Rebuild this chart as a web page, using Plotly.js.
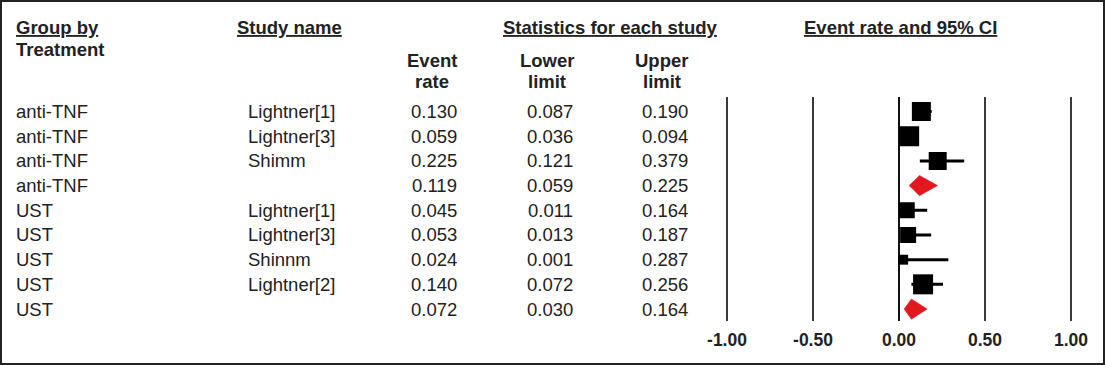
<!DOCTYPE html>
<html>
<head>
<meta charset="utf-8">
<script src="https://cdn.plot.ly/plotly-3.0.1.min.js"></script>
<style>html,body{margin:0;padding:0;background:#fff}#chart{width:1105px;height:365px}</style>
</head>
<body>
<div id="chart"></div>
<script>
// ---- data ----
const groups = ['anti-TNF','anti-TNF','anti-TNF','anti-TNF','UST','UST','UST','UST','UST'];
const studies = ['Lightner[1]','Lightner[3]','Shimm','','Lightner[1]','Lightner[3]','Shinnm','Lightner[2]',''];
const eventRate = [0.130,0.059,0.225,0.119,0.045,0.053,0.024,0.140,0.072];
const lowerLimit = [0.087,0.036,0.121,0.059,0.011,0.013,0.001,0.072,0.030];
const upperLimit = [0.190,0.094,0.379,0.225,0.164,0.187,0.287,0.256,0.164];
const isSummary = [false,false,false,true,false,false,false,false,true];
const axisTicks = [-1,-0.5,0,0.5,1];
const axisTickText = ['-1.00','-0.50','0.00','0.50','1.00'];

// ---- style ----
const W = 1105, H = 365;
const squareSizePx = [19,20,18,0,16,16,10,20,0];
const FONT = 'Arial, "Liberation Sans", sans-serif';
const TXT = '#222';
const PAD = 2; // annotation inner padding compensation
const px = v => v / W;
const py = v => 1 - v / H;

const rows = eventRate.map((_, i) => i);
const studyIdx = rows.filter(i => !isSummary[i]);
const sumIdx = rows.filter(i => isSummary[i]);

const traces = [];
// confidence interval lines (drawn first, below squares)
traces.push({
  type: 'scatter', mode: 'markers',
  x: studyIdx.map(i => eventRate[i]),
  y: studyIdx.map(i => i),
  marker: {size: 1, opacity: 0, color: '#000'},
  error_x: {type: 'data', symmetric: false,
    array: studyIdx.map(i => upperLimit[i] - eventRate[i]),
    arrayminus: studyIdx.map(i => eventRate[i] - lowerLimit[i]),
    color: '#000', thickness: 3, width: 0},
  hoverinfo: 'skip', showlegend: false
});
// study squares
traces.push({
  type: 'scatter', mode: 'markers',
  x: studyIdx.map(i => eventRate[i]),
  y: studyIdx.map(i => i),
  marker: {symbol: 'square', color: '#000', opacity: 1, size: studyIdx.map(i => squareSizePx[i]), line: {width: 0}},
  hoverinfo: 'skip', showlegend: false
});
// summary diamonds
const dh = 0.41;
sumIdx.forEach(i => {
  traces.push({
    type: 'scatter', mode: 'lines', fill: 'toself', fillcolor: '#e3171e',
    x: [lowerLimit[i], eventRate[i], upperLimit[i], eventRate[i], lowerLimit[i]],
    y: [i, i - dh, i, i + dh, i],
    line: {color: '#e3171e', width: 0.5},
    hoverinfo: 'skip', showlegend: false
  });
});

const ann = [];
function add(text, x, y, xanchor, opts) {
  opts = opts || {};
  const shift = xanchor === 'left' ? -PAD : (xanchor === 'right' ? PAD : 0);
  ann.push({
    text: text, x: px(x + shift), y: y, xref: 'paper', yref: opts.yref || 'paper',
    xanchor: xanchor, yanchor: 'middle', showarrow: false,
    font: Object.assign({family: FONT, size: 18.5, color: TXT}, opts.font || {})
  });
}
const bold = {weight: 'bold'};
const boldU = {weight: 'bold', lineposition: 'under'};
add('Group by', 16, py(27), 'left', {font: boldU});
add('Treatment', 16, py(49), 'left', {font: bold});
add('Study name', 237, py(27), 'left', {font: boldU});
add('Statistics for each study', 610.5, py(27), 'center', {font: boldU});
add('Event rate and 95% CI', 900.5, py(27), 'center', {font: boldU});
add('Event', 432, py(61), 'center', {font: bold});
add('rate', 432, py(82), 'center', {font: bold});
add('Lower', 546.5, py(61), 'center', {font: bold});
add('limit', 546.5, py(82), 'center', {font: bold});
add('Upper', 661.5, py(61), 'center', {font: bold});
add('limit', 661.5, py(82), 'center', {font: bold});

rows.forEach(i => {
  add(groups[i], 16, i, 'left', {yref: 'y'});
  if (studies[i]) add(studies[i], 248, i, 'left', {yref: 'y'});
  add(eventRate[i].toFixed(3), 457, i, 'right', {yref: 'y'});
  add(lowerLimit[i].toFixed(3), 573, i, 'right', {yref: 'y'});
  add(upperLimit[i].toFixed(3), 688, i, 'right', {yref: 'y'});
});

const rowPx0 = 111.5, rowStep = 24.69, plotTopPx = 97, plotBotPx = 321;
const xLo = -1.05, xHi = 1.05, zeroPx = 899, unitPx = 172;
const layout = {
  width: W, height: H,
  margin: {l: 0, r: 0, t: 0, b: 0, pad: 0},
  paper_bgcolor: '#fff', plot_bgcolor: 'rgba(0,0,0,0)',
  showlegend: false,
  xaxis: {
    domain: [px(zeroPx + xLo * unitPx), px(zeroPx + xHi * unitPx)],
    range: [xLo, xHi], fixedrange: true,
    tickmode: 'array', tickvals: axisTicks, ticktext: axisTickText,
    ticks: '', showline: false,
    showgrid: true, gridcolor: '#3a3a3a', gridwidth: 2.5,
    zeroline: true, zerolinecolor: '#111', zerolinewidth: 2.5,
    tickfont: {family: FONT, size: 17.5, color: TXT, weight: 'bold'},
    ticklabelstandoff: 6
  },
  yaxis: {
    domain: [1 - plotBotPx / H, 1 - plotTopPx / H],
    range: [(plotBotPx - rowPx0) / rowStep, (plotTopPx - rowPx0) / rowStep],
    visible: false, showgrid: false, zeroline: false, fixedrange: true
  },
  annotations: ann,
  shapes: [{type: 'rect', xref: 'paper', yref: 'paper',
    x0: px(1), x1: px(1104), y0: py(364), y1: py(1),
    line: {color: '#222', width: 2}, fillcolor: 'rgba(0,0,0,0)'}]
};
Plotly.newPlot('chart', traces, layout, {displayModeBar: false, staticPlot: true});
</script>
</body>
</html>
